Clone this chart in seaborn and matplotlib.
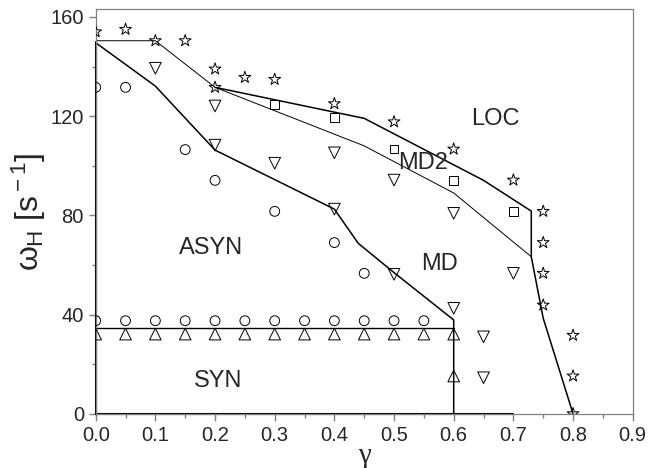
import matplotlib
matplotlib.use("Agg")
import matplotlib.pyplot as plt
import seaborn as sns
import pandas as pd

# ---- data ----
star_x = [0.0, 0.05, 0.1, 0.15, 0.2, 0.2, 0.25, 0.3, 0.4, 0.5, 0.6, 0.7, 0.75, 0.75, 0.75, 0.75, 0.8, 0.8, 0.8]
star_y = [154, 155, 150.4, 150.4, 139, 131.6, 135.6, 134.8, 125, 117.7, 106.7, 94.2, 81.6, 69, 56.6, 43.8, 31.6, 15.2, 0]

square_x = [0.3, 0.4, 0.5, 0.6, 0.7]
square_y = [124.7, 119.4, 106.8, 94.1, 81.6]

dtri_x = [0.1, 0.2, 0.2, 0.3, 0.4, 0.4, 0.5, 0.5, 0.6, 0.6, 0.65, 0.65, 0.7]
dtri_y = [139.3, 124.1, 108.3, 101, 105.2, 82.5, 94.2, 56.2, 80.8, 42.5, 31, 14.5, 56.6]

circ_x = [0.0, 0.05, 0.15, 0.2, 0.3, 0.4, 0.45,
          0.0, 0.05, 0.1, 0.15, 0.2, 0.25, 0.3, 0.35, 0.4, 0.45, 0.5, 0.55]
circ_y = [131.6, 131.6, 106.5, 94.1, 81.6, 69, 56.6,
          37.5, 37.5, 37.5, 37.5, 37.5, 37.5, 37.5, 37.5, 37.5, 37.5, 37.5, 37.5]

utri_x = [0.0, 0.05, 0.1, 0.15, 0.2, 0.25, 0.3, 0.35, 0.4, 0.45, 0.5, 0.55, 0.6, 0.6]
utri_y = [32.1, 32.1, 32.1, 32.1, 32.1, 32.1, 32.1, 32.1, 32.1, 32.1, 32.1, 32.1, 32.1, 15.2]

# boundary lines
syn_x = [0.0, 0.6]
syn_y = [34.4, 34.4]
asyn_x = [0.0, 0.1, 0.2, 0.4, 0.44, 0.5, 0.6, 0.6]
asyn_y = [149.6, 132.1, 106.3, 82.5, 68.7, 56.9, 37.8, 0]
md_x = [0.0, 0.1, 0.2, 0.45, 0.6, 0.73]
md_y = [150.4, 150.4, 131.6, 108, 89, 63.3]
loc_x = [0.2, 0.45, 0.65, 0.73, 0.73, 0.75, 0.8]
loc_y = [131.6, 119.1, 94.1, 81.7, 63.3, 38.5, 0]

region_labels = ["LOC", "MD2", "MD", "ASYN", "SYN"]
region_x = [0.67, 0.548, 0.576, 0.193, 0.205]
region_y = [119, 101, 60.2, 67, 13.3]

x_ticks = [0.0, 0.1, 0.2, 0.3, 0.4, 0.5, 0.6, 0.7, 0.8, 0.9]
y_ticks = [0, 40, 80, 120, 160]

# ---- plotting ----
sns.set_style("white")
plt.rcParams['font.family'] = ['Liberation Sans', 'DejaVu Sans']
plt.rcParams['mathtext.fontset'] = 'custom'
plt.rcParams['mathtext.rm'] = 'Liberation Sans'
plt.rcParams['mathtext.it'] = 'Liberation Sans'

fig = plt.figure(figsize=(6.48, 4.68), dpi=100)
ax = fig.add_axes([0.1477, 0.116, 0.9764 - 0.1477, 0.9808 - 0.116])

def line(xs, ys, lw):
    df = pd.DataFrame({"x": xs, "y": ys})
    sns.lineplot(data=df, x="x", y="y", sort=False, estimator=None,
                 color="black", lw=lw, ax=ax)

line(syn_x, syn_y, 1.0)
line(asyn_x, asyn_y, 1.1)
line(md_x, md_y, 0.7)
line(loc_x, loc_y, 1.1)

def pts(xs, ys, marker, s):
    sns.scatterplot(x=xs, y=ys, marker=marker, s=s, facecolor="none",
                    edgecolor="black", linewidth=0.7, ax=ax, zorder=3)

pts(star_x, star_y, "*", 80)
pts(square_x, square_y, "s", 38)
pts(dtri_x, dtri_y, "v", 70)
pts(circ_x, circ_y, "o", 50)
pts(utri_x, utri_y, "^", 70)

for t, x, y in zip(region_labels, region_x, region_y):
    ax.text(x, y, t, fontsize=17, ha="center", va="center")

ax.set_xlim(0, 0.9)
ax.set_ylim(0, 163.2)
ax.set_xticks(x_ticks)
ax.set_xticklabels([f"{v:.1f}" for v in x_ticks])
ax.set_yticks(y_ticks)
ax.set_xticks([0.05, 0.15, 0.25, 0.35, 0.45, 0.55, 0.65, 0.75, 0.85], minor=True)
ax.set_yticks([20, 60, 100, 140], minor=True)
ax.tick_params(which="both", direction="out", color="#808080", labelsize=14.5,
               left=True, bottom=True)
ax.tick_params(which="major", length=5, width=1)
ax.tick_params(which="minor", length=3, width=1)

for sp in ax.spines.values():
    sp.set_color("#808080")
    sp.set_linewidth(0.9)
ax.axvline(0, ymin=0, ymax=150 / 163.2, color="black", lw=1.5, clip_on=False)
ax.axhline(0, xmin=0, xmax=0.7 / 0.9, color="black", lw=1.5, clip_on=False)

ax.set_xlabel("γ", fontsize=21, family=["Liberation Serif", "DejaVu Serif"], labelpad=-1)
ax.set_ylabel(r"$\omega_{\rm H}$ [s$^{\rm -1}$]", fontsize=23, labelpad=2)

fig.savefig("out.png", dpi=100)
